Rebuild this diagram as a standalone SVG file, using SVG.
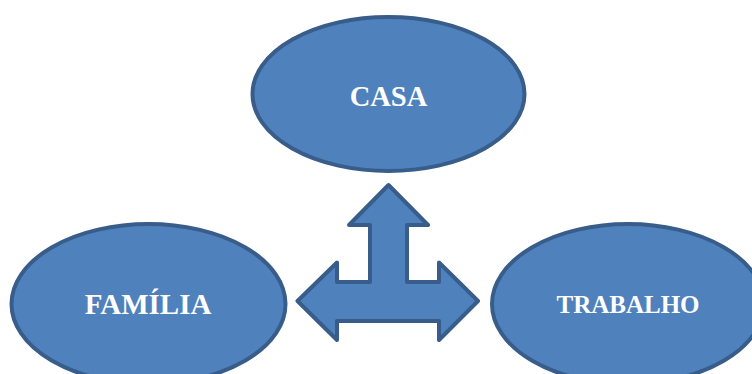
<svg xmlns="http://www.w3.org/2000/svg" width="752" height="374" viewBox="0 0 752 374">
<style>
.shape{fill:#4f81bd;stroke:#385d8a;stroke-width:4;stroke-linejoin:round}
.lbl{font-family:"Liberation Serif","Times New Roman",serif;font-weight:bold;fill:#ffffff;text-anchor:middle}
</style>
<rect width="752" height="374" fill="#ffffff"/>
<g id="connectors">
<polygon class="shape" points="388.5,185 428,225 407,225 407,282 439,282 439,262.5 478,301 439,340 439,321 337,321 337,340 297.5,301 337,262.5 337,282 370,282 370,225 349,225"/>
</g>
<g id="casa">
<ellipse class="shape" cx="388.5" cy="94" rx="136" ry="77"/>
<text class="lbl" x="388.5" y="106" font-size="28.5">CASA</text>
</g>
<g id="familia">
<ellipse class="shape" cx="148.5" cy="304" rx="137" ry="80"/>
<text class="lbl" x="148" y="314" font-size="29">FAMÍLIA</text>
</g>
<g id="trabalho">
<ellipse class="shape" cx="628" cy="304" rx="136" ry="80"/>
<text class="lbl" x="628" y="313" font-size="25">TRABALHO</text>
</g>
</svg>
